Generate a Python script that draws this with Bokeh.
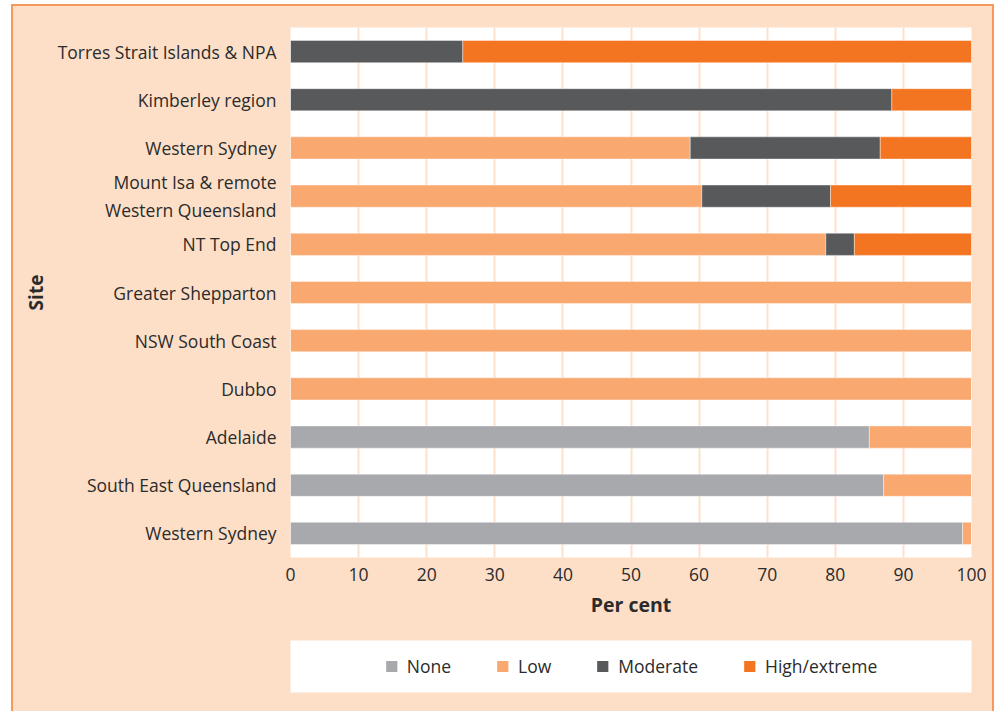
from bokeh.plotting import figure
from bokeh.layouts import column
from bokeh.models import ColumnDataSource, FixedTicker, Legend, LegendItem, Range1d
from bokeh.embed import file_html
from bokeh.resources import INLINE

# Sites, listed top to bottom
sites = [
    "Torres Strait Islands & NPA",
    "Kimberley region",
    "Western Sydney",
    "Mount Isa & remote\nWestern Queensland",
    "NT Top End",
    "Greater Shepparton",
    "NSW South Coast",
    "Dubbo",
    "Adelaide",
    "South East Queensland",
    "Western Sydney",
]

# Per cent of each site in each category
none_pct = [0, 0, 0, 0, 0, 0, 0, 0, 85.0, 87.1, 98.7]
low_pct = [0, 0, 58.7, 60.4, 78.6, 100, 100, 100, 15.0, 12.9, 1.3]
moderate_pct = [25.3, 88.3, 27.9, 18.9, 4.2, 0, 0, 0, 0, 0, 0]
high_pct = [74.7, 11.7, 13.4, 20.7, 17.2, 0, 0, 0, 0, 0, 0]

categories = ["None", "Low", "Moderate", "High/extreme"]
x_ticks = [0, 10, 20, 30, 40, 50, 60, 70, 80, 90, 100]

PEACH = "#FDDFC8"
BORDER = "#F59A5C"
TEXT = "#2B2B2B"
FONT = "Open Sans"
colors = ["#A7A9AC", "#F9A870", "#58595B", "#F47521"]

n = len(sites)
rows = [n - 1 - i for i in range(n)]
source = ColumnDataSource(dict(
    row=rows, none=none_pct, low=low_pct, moderate=moderate_pct, high=high_pct,
))

p = figure(
    width=979, height=620,
    x_range=Range1d(0, 100), y_range=Range1d(-0.5, n - 0.5),
    output_backend="svg", toolbar_location=None,
    min_border_left=277, min_border_right=21,
    min_border_top=21, min_border_bottom=69,
)
p.background_fill_color = "white"
p.border_fill_color = PEACH
p.outline_line_color = None

p.hbar_stack(
    ["none", "low", "moderate", "high"], y="row", height=0.46,
    color=colors, source=source,
    line_color="white", line_width=0.8, line_alpha=0.5,
)

# x axis
p.xaxis.ticker = FixedTicker(ticks=x_ticks)
p.xaxis.axis_label = "Per cent"
p.xaxis.axis_line_color = None
p.xaxis.major_tick_line_color = None
p.xaxis.minor_tick_line_color = None
p.xaxis.major_tick_out = 0
p.xaxis.major_tick_in = 0
p.xaxis.minor_tick_out = 0
p.xaxis.major_label_standoff = 10
p.xaxis.axis_label_standoff = 7
p.xaxis.major_label_text_font = FONT
p.xaxis.major_label_text_font_size = "17.5px"
p.xaxis.major_label_text_color = TEXT
p.xaxis.axis_label_text_font = FONT
p.xaxis.axis_label_text_font_size = "19.5px"
p.xaxis.axis_label_text_font_style = "bold"
p.xaxis.axis_label_text_color = TEXT

# y axis with site names
p.yaxis.ticker = FixedTicker(ticks=rows)
p.yaxis.major_label_overrides = {r: s for r, s in zip(rows, sites)}
p.yaxis.axis_label = "Site"
p.yaxis.axis_line_color = None
p.yaxis.major_tick_line_color = None
p.yaxis.minor_tick_line_color = None
p.yaxis.major_tick_out = 0
p.yaxis.major_tick_in = 0
p.yaxis.minor_tick_out = 0
p.yaxis.major_label_standoff = 14
p.yaxis.axis_label_standoff = 6
p.yaxis.major_label_text_font = FONT
p.yaxis.major_label_text_font_size = "17.5px"
p.yaxis.major_label_text_color = TEXT
p.yaxis.major_label_text_line_height = 1.17
p.yaxis.axis_label_text_font = FONT
p.yaxis.axis_label_text_font_size = "19px"
p.yaxis.axis_label_text_font_style = "bold"
p.yaxis.axis_label_text_color = TEXT

p.ygrid.grid_line_color = None
p.xgrid.ticker = FixedTicker(ticks=x_ticks)
p.xgrid.grid_line_color = "#FCE1CC"
p.xgrid.grid_line_width = 2

# Legend strip below the chart
lg = figure(
    width=979, height=85,
    x_range=Range1d(0, 1), y_range=Range1d(0, 1),
    x_axis_location=None, y_axis_location=None,
    output_backend="svg", toolbar_location=None,
    min_border_left=277, min_border_right=21,
    min_border_top=14, min_border_bottom=19,
)
lg.grid.visible = False
lg.outline_line_color = None
lg.background_fill_color = "white"
lg.border_fill_color = PEACH

# one swatch renderer per category; a NaN row keeps the swatch style without drawing a bar
items = []
for name, c in zip(categories, colors):
    r = lg.hbar(y=[float("nan")], left=[0], right=[1], height=0.5,
                color=c, line_color=None)
    items.append(LegendItem(label=name, renderers=[r]))

legend = Legend(
    items=items, orientation="horizontal", location="center",
    glyph_width=14, glyph_height=14, label_standoff=9, spacing=44,
    padding=0, margin=0,
    label_text_font=FONT, label_text_font_size="17.5px", label_text_color=TEXT,
    background_fill_alpha=0, border_line_color=None,
)
lg.add_layout(legend, "center")

layout = column(
    p, lg, margin=(4, 0, 0, 11),
    styles={
        "background-color": PEACH,
        "border-left": f"2px solid {BORDER}",
        "border-top": f"2px solid {BORDER}",
        "border-right": f"2px solid {BORDER}",
    },
)

open("out.html", "w").write(file_html(layout, INLINE))
